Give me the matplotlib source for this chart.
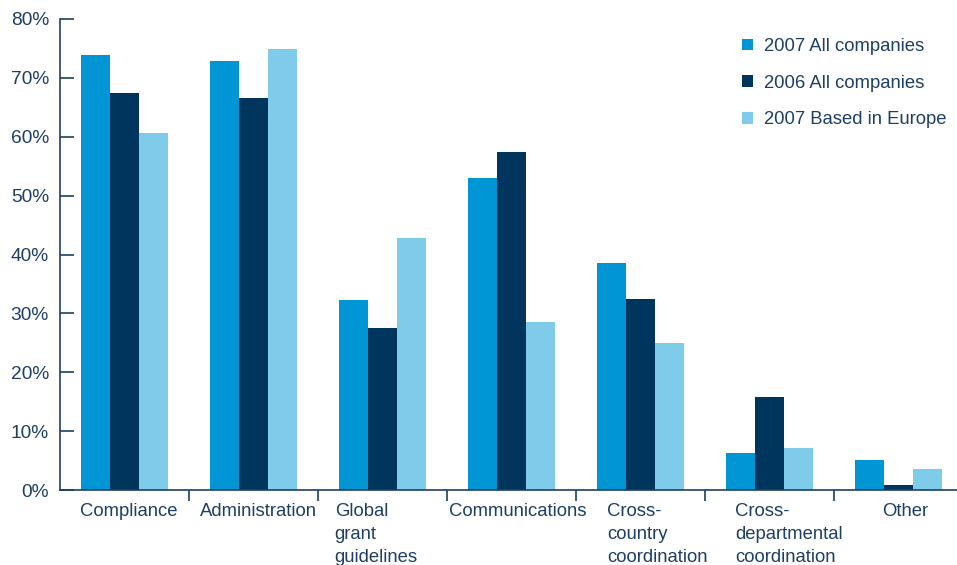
import numpy as np
import matplotlib
matplotlib.use('Agg')
import matplotlib.pyplot as plt
from matplotlib.ticker import FuncFormatter, FixedLocator

categories = ['Compliance', 'Administration', 'Global\ngrant\nguidelines',
              'Communications', 'Cross-\ncountry\ncoordination',
              'Cross-\ndepartmental\ncoordination', 'Other']
all_2007 = [73.9, 72.8, 32.3, 53.0, 38.5, 6.3, 5.1]
all_2006 = [67.4, 66.6, 27.5, 57.4, 32.4, 15.8, 0.9]
europe_2007 = [60.6, 74.9, 42.8, 28.5, 25.0, 7.1, 3.6]
series_names = ['2007 All companies', '2006 All companies', '2007 Based in Europe']
colors = ['#0096d6', '#00365e', '#7fcbea']
navy = '#1d3f66'

plt.rcParams['font.family'] = ['Liberation Sans', 'DejaVu Sans']
fs = 13.3

fig = plt.figure(figsize=(9.57, 5.65), dpi=100)
ax = fig.add_axes([0.0627, 0.1327, 0.9373, 0.8337])

x = np.arange(len(categories))
w = 0.225
for i, (vals, name) in enumerate(zip([all_2007, all_2006, europe_2007], series_names)):
    ax.bar(x + (i - 1) * w, vals, w, color=colors[i], label=name, zorder=2)

ax.set_xlim(-0.5, 6.45)
ax.set_ylim(0, 80)
ax.set_yticks(np.arange(0, 81, 10))
ax.yaxis.set_major_formatter(FuncFormatter(lambda v, p: f'{v:.0f}%'))
ax.tick_params(axis='y', direction='in', length=10, width=1.2, color=navy,
               labelcolor=navy, pad=8, labelsize=fs + 0.5)

ax.set_xticks(x)
ax.set_xticklabels([])
ax.xaxis.set_minor_locator(FixedLocator(x[:-1] + 0.5))
ax.tick_params(axis='x', which='major', length=0)
ax.tick_params(axis='x', which='minor', direction='out', length=8, width=1.2, color=navy)

offsets = [0.03, 0.04, -0.05, 0.05, 0.13, 0.15, 0.05]
for xi, lab, off in zip(x, categories, offsets):
    ax.text(xi + off, -2.2, lab, ha='center', va='top', multialignment='left',
            color=navy, fontsize=fs, linespacing=1.45)

for s in ['top', 'right']:
    ax.spines[s].set_visible(False)
for s in ['left', 'bottom']:
    ax.spines[s].set_color(navy)
    ax.spines[s].set_linewidth(1.2)

leg = ax.legend(loc='upper left', bbox_to_anchor=(0.742, 0.995), frameon=False,
                handlelength=0.6, handleheight=0.6, handletextpad=0.6,
                labelspacing=1.07, fontsize=fs)
for t in leg.get_texts():
    t.set_color(navy)

fig.savefig('out.png', dpi=100)
